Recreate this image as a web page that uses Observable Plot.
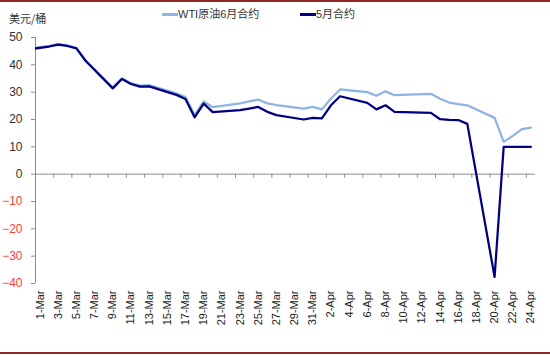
<!DOCTYPE html>
<html><head><meta charset="utf-8">
<script src="https://cdn.jsdelivr.net/npm/d3@7"></script>
<script src="https://cdn.jsdelivr.net/npm/@observablehq/plot@0.6"></script>
<style>
body{margin:0;background:#fff;}
#wrap{position:relative;width:550px;height:357px;overflow:hidden;font-family:"Liberation Sans","Noto Sans CJK SC",sans-serif;}
.rule{position:absolute;left:0;width:550px;height:2px;background:#8B2828;}
.unit{position:absolute;left:9px;top:10px;font-size:11px;color:#333;font-family:"Noto Sans CJK SC",sans-serif;}
.lg{position:absolute;top:6px;font-size:11px;color:#333;white-space:nowrap;line-height:16px;}
.sw{position:absolute;top:13px;width:16px;height:3px;}
#chart{position:absolute;left:0;top:0;}
</style></head>
<body>
<div id="wrap">
  <div class="rule" style="top:0"></div>
  <div class="rule" style="top:352px"></div>
  <div id="chart"></div>
  <div class="unit">美元/桶</div>
  <div class="sw" style="left:162px;background:#8DB4E2"></div>
  <div class="lg" style="left:178px">WTI原油6月合约</div>
  <div class="sw" style="left:300px;background:#000080"></div>
  <div class="lg" style="left:316px">5月合约</div>
</div>
<script>
const dates = ["2020-02-28","2020-03-02","2020-03-03","2020-03-04","2020-03-05","2020-03-06",
  "2020-03-09","2020-03-10","2020-03-11","2020-03-12","2020-03-13",
  "2020-03-16","2020-03-17","2020-03-18","2020-03-19","2020-03-20",
  "2020-03-23","2020-03-24","2020-03-25","2020-03-26","2020-03-27",
  "2020-03-30","2020-03-31","2020-04-01","2020-04-02","2020-04-03",
  "2020-04-06","2020-04-07","2020-04-08","2020-04-09",
  "2020-04-13","2020-04-14","2020-04-15","2020-04-16","2020-04-17",
  "2020-04-20","2020-04-21","2020-04-22","2020-04-23","2020-04-24"];
const may = [45.3,46.7,47.4,46.9,46.0,41.5,
  31.4,34.8,33.0,32.0,32.1,
  29.0,27.5,20.8,25.8,22.7,
  23.4,24.0,24.6,22.8,21.6,
  20.0,20.6,20.4,25.2,28.5,
  26.1,23.7,25.2,22.8,
  22.4,20.1,19.9,19.8,18.4,
  -37.6,10.0,10.0,10.0,10.0];
const june = [45.6,46.9,47.6,47.1,46.2,41.7,
  31.7,35.1,33.3,32.4,32.6,
  29.6,28.2,21.6,26.6,24.5,
  25.9,26.6,27.3,25.9,25.3,
  24.0,24.6,23.7,27.7,31.0,
  30.0,28.7,30.3,28.9,
  29.4,27.6,26.2,25.6,25.2,
  20.6,11.8,14.0,16.5,17.0];
const xTickDates = ["2020-03-01","2020-03-03","2020-03-05","2020-03-07","2020-03-09","2020-03-11",
  "2020-03-13","2020-03-15","2020-03-17","2020-03-19","2020-03-21","2020-03-23","2020-03-25",
  "2020-03-27","2020-03-29","2020-03-31","2020-04-02","2020-04-04","2020-04-06","2020-04-08",
  "2020-04-10","2020-04-12","2020-04-14","2020-04-16","2020-04-18","2020-04-20","2020-04-22","2020-04-24"];
const yTicks = [-40,-30,-20,-10,0,10,20,30,40,50];
const xDomain = ["2020-03-01","2020-04-25"];

const parse = d3.utcParse("%Y-%m-%d");
const noon = d => d3.utcHour.offset(d, 12);
const rows = dates.map((d, i) => ({date: noon(parse(d)), may: may[i], june: june[i]}));
const tickDays = xTickDates.map(parse);

const chart = Plot.plot({
  width: 550, height: 357,
  marginLeft: 35, marginRight: 15, marginTop: 37, marginBottom: 74,
  style: {fontFamily: "'Liberation Sans', Arial, sans-serif", background: "transparent"},
  x: {type: "utc", domain: xDomain.map(parse)},
  y: {domain: [-40, 50]},
  marks: [
    Plot.ruleX([parse(xDomain[0])], {stroke: "#8c8c8c", strokeWidth: 1}),
    Plot.ruleY([0], {stroke: "#8c8c8c", strokeWidth: 1}),
    Plot.ruleX(tickDays, {x: d => d, y1: 0, y2: 0, insetTop: 4, stroke: "#8c8c8c"}),
    Plot.axisY(yTicks.filter(v => v >= 0), {tickSize: 4, tickPadding: 9, fontSize: 12, fill: "#333", stroke: "#8c8c8c", label: null}),
    Plot.axisY(yTicks.filter(v => v < 0), {tickSize: 4, tickPadding: 9, fontSize: 12, fill: "#ff3b3b", stroke: "#8c8c8c", label: null}),
    Plot.axisX(tickDays.map(noon), {anchor: "bottom", tickSize: 0, tickPadding: 7, tickRotate: -90, fontSize: 11, fill: "#222", tickFormat: d3.utcFormat("%-d-%b"), label: null}),
    Plot.line(rows, {x: "date", y: "june", stroke: "#8DB4E2", strokeWidth: 2.25, clip: true}),
    Plot.line(rows, {x: "date", y: "may", stroke: "#000080", strokeWidth: 2.25, clip: true})
  ]
});
document.getElementById("chart").appendChild(chart);
</script>
</body></html>
